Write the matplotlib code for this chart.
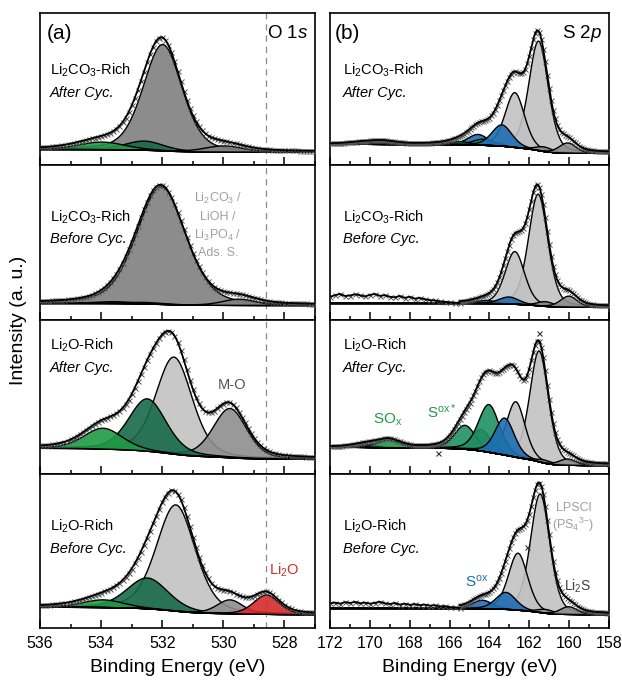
import numpy as np
import matplotlib
matplotlib.use("Agg")
import matplotlib.pyplot as plt
from matplotlib.colors import to_rgba
from matplotlib.ticker import MultipleLocator

plt.rcParams['font.family'] = ['Liberation Sans', 'DejaVu Sans']
plt.rcParams['mathtext.fontset'] = 'custom'
plt.rcParams['mathtext.rm'] = 'Liberation Sans'
plt.rcParams['mathtext.it'] = 'Liberation Sans:italic'
plt.rcParams['mathtext.bf'] = 'Liberation Sans:bold'

# fit components: centre (eV), height (norm.), FWHM (eV); bg = [high-BE end, low-BE end]
# components are listed back-to-front (first one is filled first)
# --- O 1s ---
o1s_carb_cyc_pos = [532.0, 532.6, 534.0, 530.0]
o1s_carb_cyc_amp = [0.70, 0.06, 0.05, 0.04]
o1s_carb_cyc_fwhm = [1.5, 1.5, 1.8, 1.5]
o1s_carb_cyc_bg = [0.105, 0.088]

o1s_carb_pre_pos = [532.05, 533.6, 532.6, 529.5]
o1s_carb_pre_amp = [0.76, 0.012, 0.01, 0.04]
o1s_carb_pre_fwhm = [1.9, 1.6, 1.5, 1.3]
o1s_carb_pre_bg = [0.11, 0.097]

o1s_oxi_cyc_pos = [531.63, 529.8, 532.5, 533.95]
o1s_oxi_cyc_amp = [0.63, 0.32, 0.34, 0.135]
o1s_oxi_cyc_fwhm = [1.4, 1.3, 1.45, 1.5]
o1s_oxi_cyc_bg = [0.17, 0.10]

o1s_oxi_pre_pos = [531.57, 532.5, 533.95, 529.8, 528.6]
o1s_oxi_pre_amp = [0.69, 0.2, 0.05, 0.09, 0.125]
o1s_oxi_pre_fwhm = [1.5, 1.6, 1.6, 1.0, 1.0]
o1s_oxi_pre_bg = [0.138, 0.09]

# --- S 2p (2p3/2 + 2p1/2 doublets) ---
s2p_carb_cyc_pos = [161.56, 162.75, 164.6, 164.3, 165.5, 163.4, 170.5, 169.4, 161.3, 160.1]
s2p_carb_cyc_amp = [0.72, 0.36, 0.07, 0.04, 0.02, 0.14, 0.01, 0.02, 0.03, 0.066]
s2p_carb_cyc_fwhm = [1.15, 1.15, 1.2, 1.3, 1.3, 1.2, 1.5, 1.5, 1.0, 1.0]
s2p_carb_cyc_bg = [0.14, 0.08]

s2p_carb_pre_pos = [161.58, 162.75, 164.2, 163.04, 161.22, 160.04]
s2p_carb_pre_amp = [0.72, 0.34, 0.02, 0.045, 0.03, 0.07]
s2p_carb_pre_fwhm = [1.15, 1.15, 1.2, 1.2, 1.0, 1.0]
s2p_carb_pre_bg = [0.11, 0.086]
s2p_carb_pre_raw = [0.150, 0.160, 0.168, 0.155, 0.158, 0.166, 0.160, 0.152, 0.162,
                    0.168, 0.156, 0.160, 0.150, 0.146, 0.155, 0.143, 0.150, 0.138,
                    0.142, 0.134, 0.128, 0.126, 0.120, 0.118, 0.114, 0.112, 0.110]

s2p_oxi_cyc_pos = [161.53, 162.7, 164.44, 165.25, 164.05, 163.26, 170.25, 169.07, 161.28, 160.1]
s2p_oxi_cyc_amp = [0.72, 0.36, 0.14, 0.155, 0.31, 0.24, 0.02, 0.05, 0.02, 0.04]
s2p_oxi_cyc_fwhm = [1.1, 1.1, 1.15, 1.25, 1.25, 1.15, 1.4, 1.4, 1.0, 1.0]
s2p_oxi_cyc_bg = [0.177, 0.058]
s2p_oxi_cyc_out_x = [161.5, 166.6]
s2p_oxi_cyc_out_y = [0.916, 0.138]

s2p_oxi_pre_pos = [161.48, 162.59, 164.38, 163.2, 161.22, 160.05]
s2p_oxi_pre_amp = [0.77, 0.37, 0.055, 0.11, 0.025, 0.05]
s2p_oxi_pre_fwhm = [1.15, 1.15, 1.2, 1.2, 1.0, 1.0]
s2p_oxi_pre_bg = [0.13, 0.09]
s2p_oxi_pre_raw = [0.160, 0.165, 0.158, 0.168, 0.162, 0.170, 0.160, 0.165, 0.158,
                   0.163, 0.170, 0.160, 0.156, 0.162, 0.152, 0.158, 0.150, 0.155,
                   0.148, 0.152, 0.145, 0.148, 0.140, 0.142, 0.136, 0.134, 0.130]
s2p_oxi_pre_out_x = [162.1]
s2p_oxi_pre_out_y = [0.526]

# colours
LG, DG, MGR, BL = '#1f9a45', '#17694a', '#1f9060', '#1e6db3'
LGY, MGY, GY, RD = '#c2c2c2', '#8e8e8e', '#808080', '#d62a2a'

o1s_carb_cyc_col = [GY, DG, LG, GY]
o1s_carb_pre_col = [GY, LG, DG, GY]
o1s_oxi_cyc_col = [LGY, MGY, DG, LG]
o1s_oxi_pre_col = [LGY, DG, LG, MGY, RD]
s2p_carb_cyc_col = [LGY, LGY, BL, MGR, MGR, BL, LG, LG, MGY, MGY]
s2p_carb_pre_col = [LGY, LGY, BL, BL, MGY, MGY]
s2p_oxi_cyc_col = [LGY, LGY, BL, MGR, MGR, BL, LG, LG, MGY, MGY]
s2p_oxi_pre_col = [LGY, LGY, BL, BL, MGY, MGY]


def gl(E, c, a, w, m=0.3):
    x = (E - c) / (w / 2)
    return a * (m / (1 + x**2) + (1 - m) * np.exp(-np.log(2) * x**2))


def panel(ax, E, pos, amp, fwhm, cols, bg_ends, raw=None, raw_from=None,
          out_x=None, out_y=None):
    peaks = [gl(E, c, a, w) for c, a, w in zip(pos, amp, fwhm)]
    tot = np.sum(peaks, axis=0)
    # Shirley-type step: integral of the peaks from the low-BE end
    cum = np.cumsum(tot[::-1])[::-1]
    bg = bg_ends[1] + (bg_ends[0] - bg_ends[1]) * cum / cum[0]
    env = bg + tot
    for pk, col in zip(peaks, cols):
        ax.fill_between(E, bg, bg + pk, facecolor=to_rgba(col, 0.9),
                        edgecolor='k', lw=1.0, zorder=2)
    keep = np.ones_like(E, bool) if raw_from is None else E <= raw_from
    ax.plot(E[keep][::10], env[keep][::10], 'x', color='#555555', ms=3.6,
            mew=0.7, zorder=3)
    ax.plot(E[keep], env[keep], color='k', lw=1.3, zorder=4)
    if raw is not None:
        xr = np.linspace(E[0], raw_from, len(raw))
        ax.plot(xr, raw, 'x', color='#555555', ms=3.6, mew=0.7, zorder=3)
        ax.plot(xr, raw, color='k', lw=1.3, zorder=4)
    if out_x is not None:
        ax.plot(out_x, out_y, 'x', color='#333333', ms=3.6, mew=0.8, zorder=5)


W, H = 622, 684
tops = [13, 165, 320, 474]
bots = [165, 320, 474, 628]
fig = plt.figure(figsize=(W / 100, H / 100), dpi=100)

E_o = np.linspace(536, 527, 901)
E_s = np.linspace(172, 158, 1401)

o1s_sets = [
    (o1s_carb_cyc_pos, o1s_carb_cyc_amp, o1s_carb_cyc_fwhm, o1s_carb_cyc_col, o1s_carb_cyc_bg),
    (o1s_carb_pre_pos, o1s_carb_pre_amp, o1s_carb_pre_fwhm, o1s_carb_pre_col, o1s_carb_pre_bg),
    (o1s_oxi_cyc_pos, o1s_oxi_cyc_amp, o1s_oxi_cyc_fwhm, o1s_oxi_cyc_col, o1s_oxi_cyc_bg),
    (o1s_oxi_pre_pos, o1s_oxi_pre_amp, o1s_oxi_pre_fwhm, o1s_oxi_pre_col, o1s_oxi_pre_bg),
]
s2p_sets = [
    (s2p_carb_cyc_pos, s2p_carb_cyc_amp, s2p_carb_cyc_fwhm, s2p_carb_cyc_col, s2p_carb_cyc_bg,
     None, None, None, None),
    (s2p_carb_pre_pos, s2p_carb_pre_amp, s2p_carb_pre_fwhm, s2p_carb_pre_col, s2p_carb_pre_bg,
     s2p_carb_pre_raw, 165.5, None, None),
    (s2p_oxi_cyc_pos, s2p_oxi_cyc_amp, s2p_oxi_cyc_fwhm, s2p_oxi_cyc_col, s2p_oxi_cyc_bg,
     None, None, s2p_oxi_cyc_out_x, s2p_oxi_cyc_out_y),
    (s2p_oxi_pre_pos, s2p_oxi_pre_amp, s2p_oxi_pre_fwhm, s2p_oxi_pre_col, s2p_oxi_pre_bg,
     s2p_oxi_pre_raw, 165.5, s2p_oxi_pre_out_x, s2p_oxi_pre_out_y),
]

samples = [('Li$_2$CO$_3$-Rich', 'After Cyc.'), ('Li$_2$CO$_3$-Rich', 'Before Cyc.'),
           ('Li$_2$O-Rich', 'After Cyc.'), ('Li$_2$O-Rich', 'Before Cyc.')]
lab_y = [(0.625, 0.476), (0.665, 0.523), (0.838, 0.69), (0.662, 0.513)]


def style(ax, r, xlim):
    ax.set_xlim(*xlim)
    ax.set_ylim(0, 1)
    ax.set_yticks([])
    ax.xaxis.set_major_locator(MultipleLocator(2))
    ax.xaxis.set_minor_locator(MultipleLocator(1))
    ax.tick_params(axis='x', which='major', direction='in', length=6, width=1.1,
                   labelsize=11.5, pad=6, labelbottom=(r == 3))
    ax.tick_params(axis='x', which='minor', direction='in', length=3, width=1.1)
    for s in ax.spines.values():
        s.set_linewidth(1.2)


axL, axR = [], []
for r in range(4):
    h = (bots[r] - tops[r]) / H
    a = fig.add_axes([40 / W, 1 - bots[r] / H, 275 / W, h])
    b = fig.add_axes([330 / W, 1 - bots[r] / H, 279 / W, h])
    pos, amp, fw, col, bg = o1s_sets[r]
    panel(a, E_o, pos, amp, fw, col, bg)
    a.axvline(528.6, color='#8a8a8a', ls=(0, (5, 4)), lw=0.9, zorder=1)
    pos, amp, fw, col, bg, raw, rf, ox, oy = s2p_sets[r]
    panel(b, E_s, pos, amp, fw, col, bg, raw, rf, ox, oy)
    style(a, r, (536, 527))
    style(b, r, (172, 158))
    for ax, x0 in ((a, 0.036), (b, 0.045)):
        ax.text(x0, lab_y[r][0], samples[r][0], transform=ax.transAxes,
                fontsize=10.5, va='center', ha='left')
        ax.text(x0, lab_y[r][1], samples[r][1], transform=ax.transAxes,
                fontsize=10.5, va='center', ha='left', style='italic')
    axL.append(a)
    axR.append(b)

axL[0].text(0.024, 0.862, '(a)', transform=axL[0].transAxes, fontsize=15, va='center')
axL[0].text(0.975, 0.862, 'O 1$s$', transform=axL[0].transAxes, fontsize=13.5,
            va='center', ha='right')
axR[0].text(0.018, 0.862, '(b)', transform=axR[0].transAxes, fontsize=15, va='center')
axR[0].text(0.974, 0.862, 'S 2$p$', transform=axR[0].transAxes, fontsize=13.5,
            va='center', ha='right')

for yy, t in zip([0.787, 0.665, 0.548, 0.432],
                 ['Li$_2$CO$_3$ /', 'LiOH /', 'Li$_3$PO$_4$ /', 'Ads. S.']):
    axL[1].text(0.648, yy, t, transform=axL[1].transAxes, fontsize=9,
                color='#a0a0a0', ha='center', va='center')
axL[2].text(0.698, 0.578, 'M-O', transform=axL[2].transAxes, fontsize=10.5,
            color='#555555', ha='center', va='center')
axL[3].text(0.887, 0.377, 'Li$_2$O', transform=axL[3].transAxes, fontsize=10.5,
            color=RD, ha='center', va='center')
axR[2].text(0.208, 0.35, 'SO$_\\mathrm{x}$', transform=axR[2].transAxes, fontsize=11,
            color='#1f9a45', ha='center', va='center')
axR[2].text(0.40, 0.405, 'S$^\\mathrm{ox*}$', transform=axR[2].transAxes, fontsize=11,
            color='#1f9a45', ha='center', va='center')
axR[3].text(0.872, 0.78, 'LPSCl', transform=axR[3].transAxes, fontsize=9,
            color='#a0a0a0', ha='center', va='center')
axR[3].text(0.872, 0.67, '(PS$_4$$^{3\\mathrm{-}}$)', transform=axR[3].transAxes,
            fontsize=9, color='#a0a0a0', ha='center', va='center')
axR[3].text(0.889, 0.268, 'Li$_2$S', transform=axR[3].transAxes, fontsize=10,
            color='#404040', ha='center', va='center')
axR[3].text(0.526, 0.30, 'S$^\\mathrm{ox}$', transform=axR[3].transAxes, fontsize=11,
            color=BL, ha='center', va='center')

fig.text(0.029, 1 - 320 / H, 'Intensity (a. u.)', rotation=90, fontsize=14,
         ha='center', va='center')
fig.text(177.5 / W, 1 - 668 / H, 'Binding Energy (eV)', fontsize=14, ha='center', va='center')
fig.text(469.5 / W, 1 - 668 / H, 'Binding Energy (eV)', fontsize=14, ha='center', va='center')

fig.savefig('out.png', dpi=100)
